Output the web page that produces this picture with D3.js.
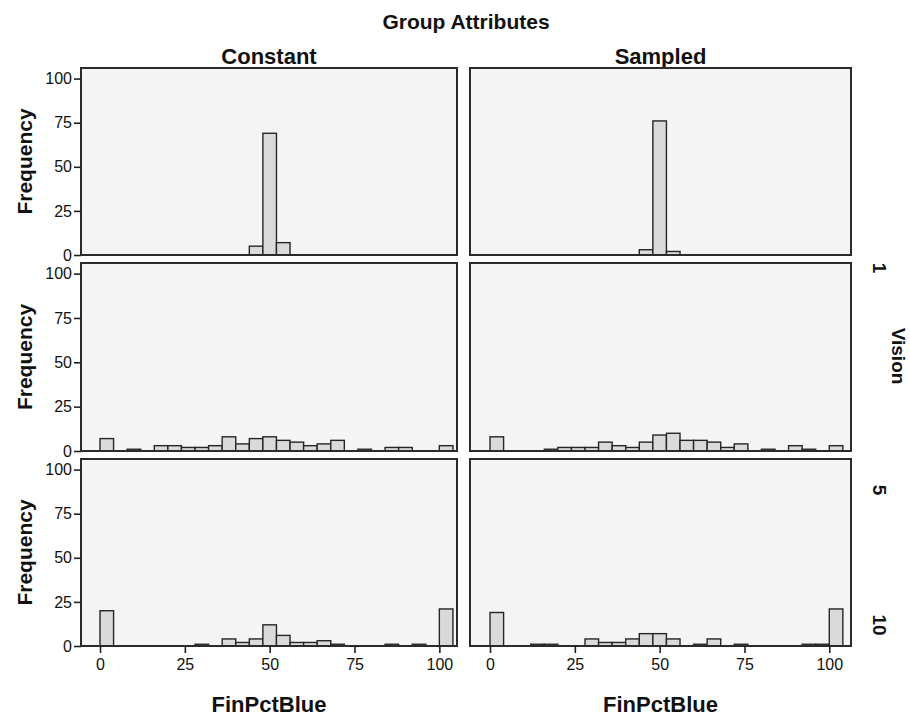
<!DOCTYPE html>
<html>
<head>
<meta charset="utf-8">
<script src="https://cdn.jsdelivr.net/npm/d3@7/dist/d3.min.js"></script>
<style>
  html, body { margin: 0; padding: 0; background: #ffffff; }
  svg { display: block; }
  text { font-family: "Liberation Sans", Arial, sans-serif; fill: #111; }
</style>
</head>
<body>
<svg id="chart" width="910" height="717"></svg>
<script>
// Histogram bins: width 4, starting at these values
const binStarts = [0, 4, 8, 12, 16, 20, 24, 28, 32, 36, 40, 44, 48, 52,
                   56, 60, 64, 68, 72, 76, 80, 84, 88, 92, 96, 100];
const binWidth = 4;

// Column facets (Group Attributes) and row facets (Vision)
const columns = ["Constant", "Sampled"];
const visionLevels = ["1", "5", "10"];

// Frequencies per bin, one array per panel
const constantV1  = [0, 0, 0, 0, 0, 0, 0, 0, 0, 0, 0, 5, 69, 7, 0, 0, 0, 0, 0, 0, 0, 0, 0, 0, 0, 0];
const sampledV1   = [0, 0, 0, 0, 0, 0, 0, 0, 0, 0, 0, 3, 76, 2, 0, 0, 0, 0, 0, 0, 0, 0, 0, 0, 0, 0];
const constantV5  = [7, 0, 1, 0, 3, 3, 2, 2, 3, 8, 4, 7, 8, 6, 5, 3, 4, 6, 0, 1, 0, 2, 2, 0, 0, 3];
const sampledV5   = [8, 0, 0, 0, 1, 2, 2, 2, 5, 3, 2, 5, 9, 10, 6, 6, 5, 2, 4, 0, 1, 0, 3, 1, 0, 3];
const constantV10 = [20, 0, 0, 0, 0, 0, 0, 1, 0, 4, 2, 4, 12, 6, 2, 2, 3, 1, 0, 0, 0, 1, 0, 1, 0, 21];
const sampledV10  = [19, 0, 0, 1, 1, 0, 0, 4, 2, 2, 4, 7, 7, 4, 0, 1, 4, 0, 1, 0, 0, 0, 0, 1, 1, 21];

const panelValues = [
  [constantV1, sampledV1],
  [constantV5, sampledV5],
  [constantV10, sampledV10]
];

// Axis ticks
const xTicks = [0, 25, 50, 75, 100];
const yTicks = [0, 25, 50, 75, 100];

// Panel geometry
const colBoxes = [
  { x0: 81,  x1: 457, domain: [-5.6, 105.2] },
  { x0: 470, x1: 851, domain: [-5.9, 106.4] }
];
const rowBoxes = [
  { y0: 68,  y1: 255 },
  { y0: 263, y1: 451 },
  { y0: 459, y1: 646 }
];
const yDomain = [0, 106];

const svg = d3.select("#chart");

// Overall title
svg.append("text")
  .attr("x", 466).attr("y", 29)
  .attr("text-anchor", "middle")
  .style("font-size", "21px").style("font-weight", "bold")
  .text("Group Attributes");

// Column headers
columns.forEach((c, ci) => {
  const b = colBoxes[ci];
  svg.append("text")
    .attr("x", (b.x0 + b.x1) / 2).attr("y", 64)
    .attr("text-anchor", "middle")
    .style("font-size", "22px").style("font-weight", "bold")
    .text(c);
});

rowBoxes.forEach((rb, ri) => {
  const y = d3.scaleLinear().domain(yDomain).range([rb.y1, rb.y0]);

  colBoxes.forEach((cb, ci) => {
    const x = d3.scaleLinear().domain(cb.domain).range([cb.x0, cb.x1]);
    const g = svg.append("g");

    // Panel background
    g.append("rect")
      .attr("x", cb.x0).attr("y", rb.y0)
      .attr("width", cb.x1 - cb.x0).attr("height", rb.y1 - rb.y0)
      .attr("fill", "#f5f5f5");

    // Bars
    const vals = panelValues[ri][ci];
    g.selectAll("rect.bar")
      .data(binStarts.map((s, i) => ({ s, v: vals[i] })).filter(d => d.v > 0))
      .join("rect")
      .attr("class", "bar")
      .attr("x", d => x(d.s))
      .attr("width", d => x(d.s + binWidth) - x(d.s))
      .attr("y", d => y(d.v))
      .attr("height", d => y(0) - y(d.v))
      .attr("fill", "#dadada")
      .attr("stroke", "#262626")
      .attr("stroke-width", 1.4);

    // Panel frame
    g.append("rect")
      .attr("x", cb.x0).attr("y", rb.y0)
      .attr("width", cb.x1 - cb.x0).attr("height", rb.y1 - rb.y0)
      .attr("fill", "none")
      .attr("stroke", "#2b2b2b")
      .attr("stroke-width", 2);

    // Y axis on left column
    if (ci === 0) {
      const ya = svg.append("g")
        .attr("transform", `translate(${cb.x0},0)`)
        .call(d3.axisLeft(y).tickValues(yTicks).tickSize(7).tickPadding(2).tickFormat(d3.format("d")));
      ya.select(".domain").remove();
      ya.selectAll("line").attr("stroke", "#222").attr("stroke-width", 1.6);
      ya.selectAll("text")
        .style("font-size", "16px")
        .attr("fill", "#111");
    }

    // X axis on bottom row
    if (ri === rowBoxes.length - 1) {
      const xa = svg.append("g")
        .attr("transform", `translate(0,${rb.y1})`)
        .call(d3.axisBottom(x).tickValues(xTicks).tickSize(7).tickPadding(6).tickFormat(d3.format("d")));
      xa.select(".domain").remove();
      xa.selectAll("line").attr("stroke", "#222").attr("stroke-width", 1.6);
      xa.selectAll("text")
        .style("font-size", "16px")
        .attr("fill", "#111");

      svg.append("text")
        .attr("x", (cb.x0 + cb.x1) / 2).attr("y", 712)
        .attr("text-anchor", "middle")
        .style("font-size", "22px").style("font-weight", "bold")
        .text("FinPctBlue");
    }
  });

  // Row y-axis title
  const cy = (rb.y0 + rb.y1) / 2;
  svg.append("text")
    .attr("transform", `translate(32,${cy}) rotate(-90)`)
    .attr("text-anchor", "middle")
    .style("font-size", "21px").style("font-weight", "bold")
    .text("Frequency");
});

// Row facet labels on the right
const stripY = [268, 490, 625];
visionLevels.forEach((lab, i) => {
  svg.append("text")
    .attr("transform", `translate(873,${stripY[i]}) rotate(90)`)
    .attr("text-anchor", "middle")
    .style("font-size", "19px").style("font-weight", "bold")
    .text(lab);
});
svg.append("text")
  .attr("transform", `translate(892,356) rotate(90)`)
  .attr("text-anchor", "middle")
  .style("font-size", "19px").style("font-weight", "bold")
  .text("Vision");
</script>
</body>
</html>
